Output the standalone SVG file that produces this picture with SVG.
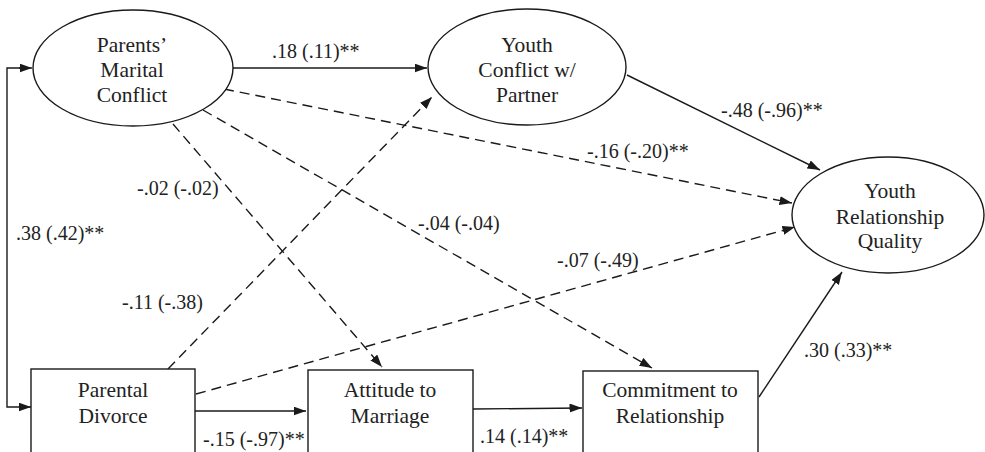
<svg xmlns="http://www.w3.org/2000/svg" width="985" height="452" viewBox="0 0 985 452" font-family="Liberation Serif, Times New Roman, serif">
<style>
.nd{fill:#fff;stroke:#1a1a1a;stroke-width:1.4}
.t{font-size:21.5px;fill:#222;text-anchor:middle}
.l{font-size:20px;fill:#222}
.c{fill:none;stroke:#1a1a1a;stroke-width:1.4}
.d{stroke-dasharray:10 6}
</style>
<defs>
<marker id="ah" markerUnits="userSpaceOnUse" markerWidth="13" markerHeight="10" refX="12.5" refY="4.5" orient="auto">
<path d="M0,0 L12.5,4.5 L0,9 z" fill="#1a1a1a"/>
</marker>
</defs>
<rect width="985" height="452" fill="#fff"/>
<g id="connectors">
<path class="c" d="M20,68 L7,68 L7,407 L31,407" marker-end="url(#ah)"/>
<path class="c" d="M19,68 L32,68" marker-end="url(#ah)"/>
<path class="c" d="M233,68 L427,68" marker-end="url(#ah)"/>
<path class="c" d="M627,75 L820,170" marker-end="url(#ah)"/>
<path class="c d" d="M224,89 L792,203" marker-end="url(#ah)"/>
<path class="c d" d="M203,110 L652,368" marker-end="url(#ah)"/>
<path class="c d" d="M173,124 L382,367" marker-end="url(#ah)"/>
<path class="c d" d="M168,369 L432,97" marker-end="url(#ah)"/>
<path class="c d" d="M196,394 L795,227" marker-end="url(#ah)"/>
<path class="c" d="M195,411 L306,411" marker-end="url(#ah)"/>
<path class="c" d="M473,409 L582,408" marker-end="url(#ah)"/>
<path class="c" d="M759,397 L842,272" marker-end="url(#ah)"/>
<text class="l" x="272" y="58" font-family="Liberation Serif, serif">.18 (.11)**</text>
<text class="l" x="721" y="117" font-family="Liberation Serif, serif">-.48 (-.96)**</text>
<text class="l" x="587" y="158" font-family="Liberation Serif, serif">-.16 (-.20)**</text>
<text class="l" x="137" y="195" font-family="Liberation Serif, serif">-.02 (-.02)</text>
<text class="l" x="418" y="230" font-family="Liberation Serif, serif">-.04 (-.04)</text>
<text class="l" x="16" y="240" font-family="Liberation Serif, serif">.38 (.42)**</text>
<text class="l" x="557" y="267" font-family="Liberation Serif, serif">-.07 (-.49)</text>
<text class="l" x="122" y="309" font-family="Liberation Serif, serif">-.11 (-.38)</text>
<text class="l" x="804" y="357" font-family="Liberation Serif, serif">.30 (.33)**</text>
<text class="l" x="203" y="446" font-family="Liberation Serif, serif">-.15 (-.97)**</text>
<text class="l" x="480" y="443" font-family="Liberation Serif, serif">.14 (.14)**</text>
</g>
<g id="parents-marital-conflict" font-family="Liberation Serif, serif">
<ellipse class="nd" cx="133" cy="68" rx="100" ry="58"/>
<text class="t" x="132" y="52">Parents’</text>
<text class="t" x="132" y="77">Marital</text>
<text class="t" x="132" y="102">Conflict</text>
</g>
<g id="youth-conflict" font-family="Liberation Serif, serif">
<ellipse class="nd" cx="527" cy="67" rx="99" ry="58"/>
<text class="t" x="527" y="52">Youth</text>
<text class="t" x="527" y="77">Conflict w/</text>
<text class="t" x="527" y="102">Partner</text>
</g>
<g id="youth-relationship-quality" font-family="Liberation Serif, serif">
<ellipse class="nd" cx="888" cy="215" rx="96" ry="58"/>
<text class="t" x="890" y="198">Youth</text>
<text class="t" x="890" y="224">Relationship</text>
<text class="t" x="890" y="248">Quality</text>
</g>
<g id="parental-divorce" font-family="Liberation Serif, serif">
<rect class="nd" x="31" y="369" width="164" height="90"/>
<text class="t" x="113" y="397">Parental</text>
<text class="t" x="113" y="423">Divorce</text>
</g>
<g id="attitude-to-marriage" font-family="Liberation Serif, serif">
<rect class="nd" x="308" y="370" width="165" height="90"/>
<text class="t" x="390" y="397">Attitude to</text>
<text class="t" x="390" y="423">Marriage</text>
</g>
<g id="commitment" font-family="Liberation Serif, serif">
<rect class="nd" x="583" y="371" width="175" height="90"/>
<text class="t" x="670" y="397">Commitment to</text>
<text class="t" x="670" y="423">Relationship</text>
</g>
</svg>
